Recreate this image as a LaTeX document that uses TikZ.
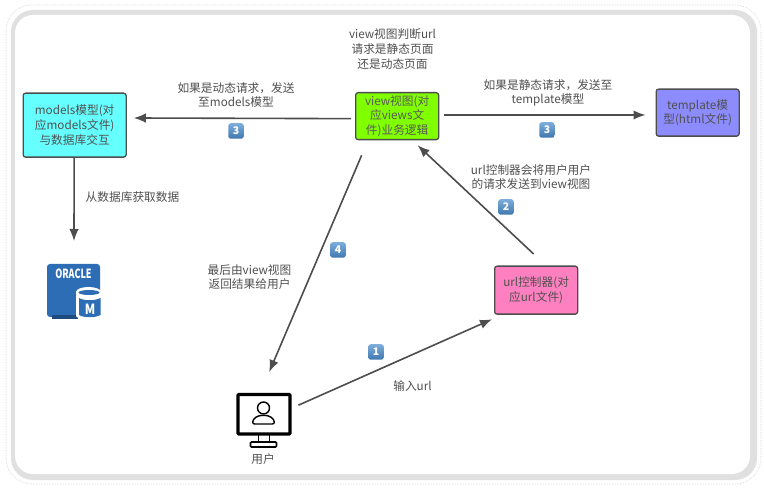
\documentclass[tikz,border=0pt]{standalone}
\usepackage{fontspec}
\usepackage{graphicx}
\setmainfont{Noto Sans CJK SC}
\usetikzlibrary{arrows.meta,calc}
\definecolor{txt}{HTML}{505050}
\definecolor{edge}{HTML}{4D4D4D}
\definecolor{badgetop}{HTML}{7DAEDB}
\definecolor{badgebot}{HTML}{3F77AE}
\definecolor{orc}{HTML}{2C6DB5}
\tikzset{
  x=1pt,y=-1pt,
  every node/.style={font=\fontsize{11.7}{14.8}\selectfont,text=txt,align=center,inner sep=0pt},
  boxn/.style={draw=edge,line width=1.3pt,rounded corners=2.5pt,anchor=north west},
  conn/.style={draw=edge,line width=1.6pt,-{Latex[length=12pt,width=9.5pt]}},
  badgen/.style={top color=badgetop,bottom color=badgebot,rounded corners=2.5pt,minimum size=15.5pt,text=white,font=\fontsize{10.5}{10}\bfseries\selectfont},
}
\begin{document}
\begin{tikzpicture}
\useasboundingbox (0,0) rectangle (764,489);
\fill[white] (0,0) rectangle (764,489);
% frame
\draw[black!18,densely dotted,line width=0.6pt,rounded corners=26pt] (6,5) rectangle (761,484);
\fill[black!12,rounded corners=22pt] (11,10) rectangle (757,480);
\fill[white,rounded corners=18pt] (15,15) rectangle (750,474);
% boxes
\node[boxn,fill={rgb,255:red,102;green,255;blue,255},minimum width=103pt,minimum height=64pt] (models) at (22.5,92.5) {models模型(对\\应models文件)\\与数据库交互};
\node[boxn,fill={rgb,255:red,128;green,255;blue,0},minimum width=83pt,minimum height=47pt,text=black!65] (view) at (355,92) {view视图(对\\应views文\\件)业务逻辑};
\node[boxn,fill={rgb,255:red,140;green,140;blue,255},minimum width=83pt,minimum height=47pt] (tmpl) at (655.5,88.5) {template模\\型(html文件)};
\node[boxn,fill={rgb,255:red,255;green,128;blue,192},minimum width=83pt,minimum height=48pt] (url) at (494,265.5) {url控制器(对\\应url文件)};
% oracle icon
\node[minimum width=53pt,minimum height=54pt,anchor=north west] (oracle) at (47,264) {};
\fill[orc,rounded corners=3pt] (47,264) rectangle (100,317);
\fill[orc!70!black] (52,315) rectangle (78,319);
\node[text=white,font=\fontsize{11}{11}\bfseries\selectfont] at (73.5,273.5) {\scalebox{0.82}[1.15]{ORACLE}};
\fill[white] (88.5,292) ellipse[x radius=12.5,y radius=5];
\fill[white] (76,292) rectangle (101,316);
\fill[white] (88.5,316) ellipse[x radius=12.5,y radius=3];
\fill[orc] (89,292.5) ellipse[x radius=10.5,y radius=2.5];
\fill[orc] (79,298) .. controls (84,301) and (95,301) .. (100.5,298) -- (100.5,315) .. controls (95,318) and (84,318) .. (79,315) -- cycle;
\node[text=white,font=\fontsize{14}{14}\bfseries\selectfont] at (90,309) {\scalebox{0.85}[1]{M}};
% user icon
\node[minimum width=55pt,minimum height=56pt,anchor=north west] (user) at (236,391.5) {};
\draw[black,line width=3.2pt,rounded corners=1pt] (238,394.5) rectangle (290,434);
\draw[black,line width=1.4pt] (258.5,435) -- (258.5,442) (269.5,435) -- (269.5,442);
\draw[black,line width=1.6pt,rounded corners=1pt] (250.5,442) rectangle (276.5,447);
\draw[black,line width=1.4pt] (263.5,408) circle[radius=6];
\draw[black,line width=1.4pt,rounded corners=2pt] (252.5,424) .. controls (253,418) and (258,415.5) .. (263.5,415.5) .. controls (269,415.5) and (274,418) .. (274.5,424) -- cycle;
\node (userlabel) at (263,459) {用户};
% connectors
\draw[conn] ([xshift=-4pt,yshift=-2.5pt]view.west) -- ([xshift=7pt]models.east |- 0,118);
\draw[conn] ([xshift=5pt]view.east |- 0,115) -- ([xshift=-10pt]tmpl.west |- 0,115);
\draw[conn] ([xshift=-0.5pt]models.south) -- (74,241) coordinate (dbtop);
\draw[conn] ([xshift=-35.5pt,yshift=-15pt]view.south) -- ([xshift=5.5pt,yshift=19.5pt]user.north);
\draw[conn] ([xshift=-2.5pt,yshift=11.5pt]url.north) -- ([xshift=20.5pt,yshift=-5pt]view.south);
\draw[conn] ([xshift=7pt,yshift=14.5pt]user.east) -- ([xshift=-2pt,yshift=-4.5pt]url.south west);
% labels
\node (t1) at (392.5,49) {view视图判断url\\请求是静态页面\\还是动态页面};
\node (t2) at (236,95) {如果是动态请求，发送\\至models模型};
\node (t3) at (548,93) {如果是静态请求，发送至\\template模型};
\node (t4) at (132.5,197) {从数据库获取数据};
\node (t5) at (531,177) {url控制器会将用户用户\\的请求发送到view视图};
\node (t6) at (249.5,277) {最后由view视图\\返回结果给用户};
\node (t7) at (412.5,386) {输入url};
% badges
\node[badgen] (b31) at (236,131) {3};
\node[badgen] (b32) at (547,130) {3};
\node[badgen] (b2) at (506,207) {2};
\node[badgen] (b4) at (338,250) {4};
\node[badgen] (b1) at (376,352) {1};
\end{tikzpicture}
\end{document}
